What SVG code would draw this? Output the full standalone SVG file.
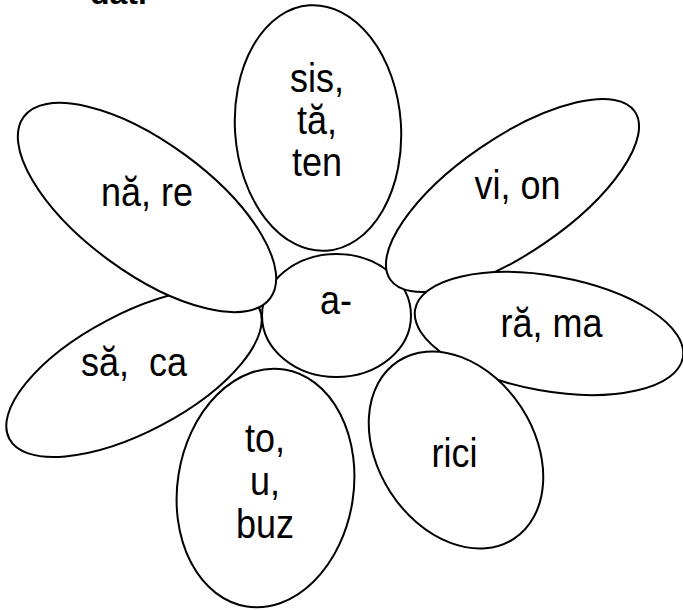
<svg xmlns="http://www.w3.org/2000/svg" width="683" height="610" viewBox="0 0 683 610">
<style>
.p{fill:#fff;stroke:#000;stroke-width:2}
.t{font-family:"Liberation Sans",Arial,sans-serif;font-size:36px;fill:#000;text-anchor:middle}
.h{font-family:"Liberation Sans",Arial,sans-serif;font-size:32px;font-weight:bold;fill:#000}
</style>
<rect width="683" height="610" fill="#fff"/>
<text class="h" x="90" y="4">dati</text>
<g id="connectors"/>
<g id="center">
<ellipse class="p" cx="336.5" cy="315.5" rx="74.5" ry="61.5"/>
<text class="t" transform="translate(336,314) scale(1,1.12)">a-</text>
</g>
<g id="petal-sa-ca">
<ellipse class="p" cx="0" cy="0" rx="141" ry="59" transform="translate(134,373) rotate(-27.8)"/>
<text class="t" xml:space="preserve" transform="translate(134,376) scale(1,1.12)">să,  ca</text>
</g>
<g id="petal-vi-on">
<ellipse class="p" cx="0" cy="0" rx="148.4" ry="57.5" transform="translate(512.5,195.5) rotate(-34.5)"/>
<text class="t" transform="translate(517.5,199) scale(1,1.12)">vi, on</text>
</g>
<g id="petal-na-re">
<ellipse class="p" cx="0" cy="0" rx="153" ry="65" transform="translate(147,207.5) rotate(36.3)"/>
<text class="t" transform="translate(147,206) scale(1,1.12)">nă, re</text>
</g>
<g id="petal-ra-ma">
<ellipse class="p" cx="0" cy="0" rx="136" ry="57.5" transform="translate(549,333.5) rotate(10.2)"/>
<text class="t" transform="translate(551.5,337) scale(1,1.12)">ră, ma</text>
</g>
<g id="petal-top">
<ellipse class="p" cx="0" cy="0" rx="83" ry="123" transform="translate(318,128) rotate(-4)"/>
<text class="t" transform="translate(317,92) scale(1,1.12)">sis,</text>
<text class="t" transform="translate(317,134) scale(1,1.12)">tă,</text>
<text class="t" transform="translate(317,176) scale(1,1.12)">ten</text>
</g>
<g id="petal-to-u-buz">
<ellipse class="p" cx="0" cy="0" rx="88" ry="120" transform="translate(265.5,488) rotate(9)"/>
<text class="t" transform="translate(265,452) scale(1,1.12)">to,</text>
<text class="t" transform="translate(265,495) scale(1,1.12)">u,</text>
<text class="t" transform="translate(265,538) scale(1,1.12)">buz</text>
</g>
<g id="petal-rici">
<ellipse class="p" cx="0" cy="0" rx="78" ry="106" transform="translate(456,450) rotate(-33)"/>
<text class="t" transform="translate(454.5,467) scale(1,1.12)">rici</text>
</g>
</svg>
